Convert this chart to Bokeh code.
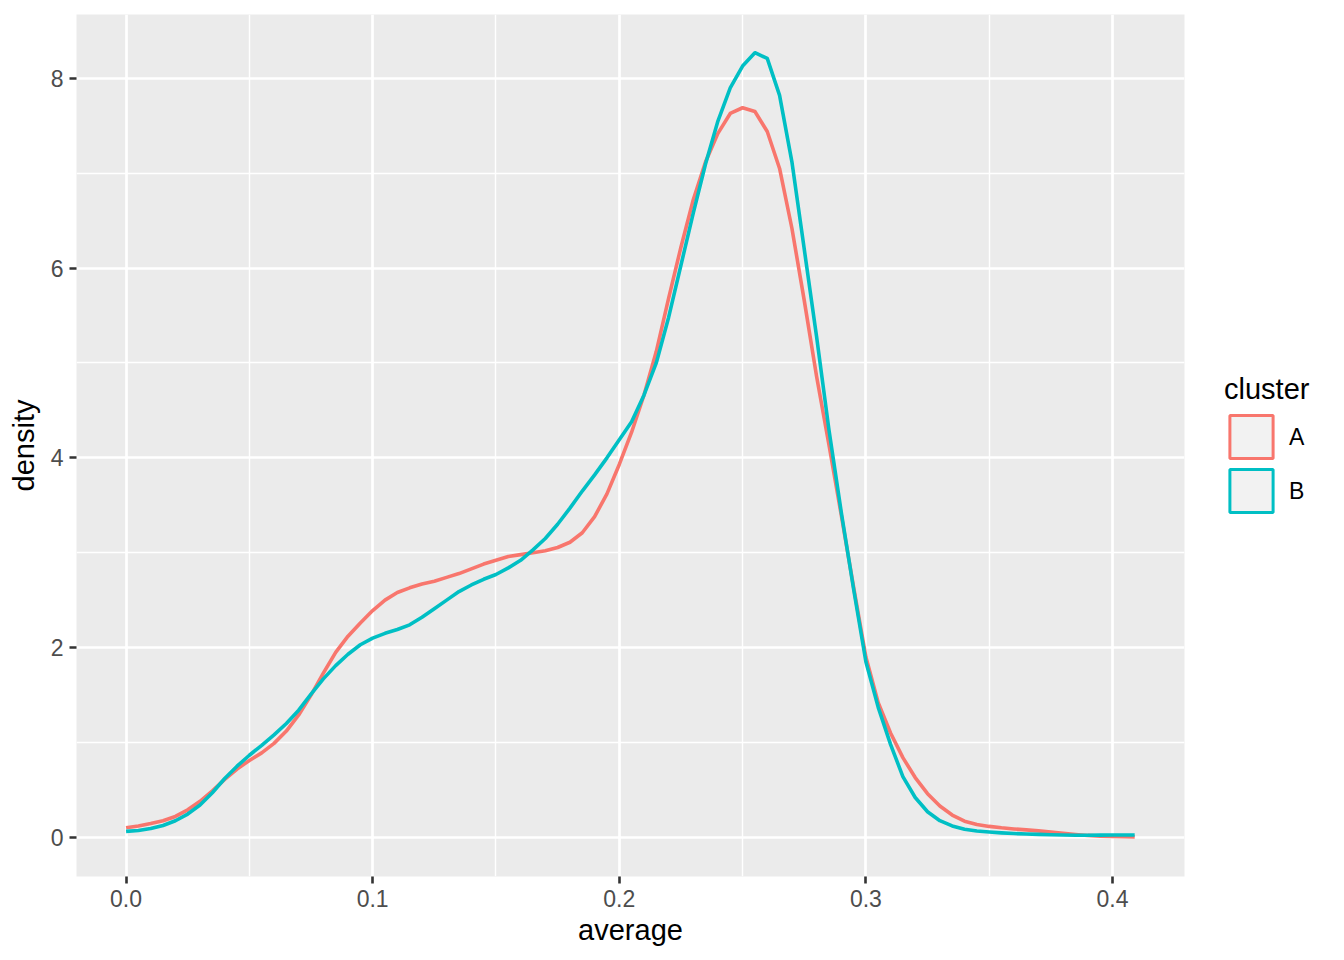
from bokeh.plotting import figure
from bokeh.models import Range1d, FixedTicker, Legend, LegendItem, ColumnDataSource
from bokeh.embed import file_html
from bokeh.resources import INLINE

# ---- data ----
average = [0.000, 0.005, 0.010, 0.015, 0.020, 0.025, 0.030, 0.035, 0.040, 0.045,
           0.050, 0.055, 0.060, 0.065, 0.070, 0.075, 0.080, 0.085, 0.090, 0.095,
           0.100, 0.105, 0.110, 0.115, 0.120, 0.125, 0.130, 0.135, 0.140, 0.145,
           0.150, 0.155, 0.160, 0.165, 0.170, 0.175, 0.180, 0.185, 0.190, 0.195,
           0.200, 0.205, 0.210, 0.215, 0.220, 0.225, 0.230, 0.235, 0.240, 0.245,
           0.250, 0.255, 0.260, 0.265, 0.270, 0.275, 0.280, 0.285, 0.290, 0.295,
           0.300, 0.305, 0.310, 0.315, 0.320, 0.325, 0.330, 0.335, 0.340, 0.345,
           0.350, 0.355, 0.360, 0.365, 0.370, 0.375, 0.380, 0.385, 0.390, 0.395,
           0.400, 0.405, 0.409]

density_A = [0.100, 0.120, 0.145, 0.175, 0.220, 0.290, 0.380, 0.490, 0.610, 0.720,
             0.810, 0.890, 0.990, 1.120, 1.290, 1.500, 1.730, 1.950, 2.120, 2.260,
             2.390, 2.500, 2.580, 2.630, 2.670, 2.700, 2.740, 2.780, 2.830, 2.880,
             2.920, 2.960, 2.980, 3.000, 3.020, 3.055, 3.110, 3.210, 3.380, 3.620,
             3.930, 4.270, 4.660, 5.120, 5.680, 6.220, 6.720, 7.120, 7.420, 7.630,
             7.690, 7.650, 7.440, 7.050, 6.420, 5.660, 4.860, 4.140, 3.400, 2.640,
             1.900, 1.420, 1.100, 0.840, 0.630, 0.460, 0.330, 0.235, 0.170, 0.135,
             0.115, 0.100, 0.088, 0.078, 0.068, 0.055, 0.042, 0.030, 0.020, 0.013,
             0.008, 0.006, 0.005]

density_B = [0.063, 0.072, 0.092, 0.125, 0.175, 0.245, 0.340, 0.470, 0.620, 0.750,
             0.865, 0.970, 1.080, 1.200, 1.340, 1.510, 1.670, 1.810, 1.930, 2.030,
             2.100, 2.150, 2.190, 2.240, 2.320, 2.410, 2.500, 2.590, 2.660, 2.720,
             2.770, 2.840, 2.920, 3.030, 3.150, 3.300, 3.470, 3.650, 3.820, 4.000,
             4.190, 4.380, 4.660, 5.000, 5.480, 6.030, 6.580, 7.100, 7.550, 7.900,
             8.130, 8.270, 8.210, 7.820, 7.120, 6.200, 5.280, 4.300, 3.430, 2.620,
             1.850, 1.370, 0.980, 0.640, 0.420, 0.270, 0.175, 0.120, 0.085, 0.066,
             0.056, 0.047, 0.040, 0.035, 0.031, 0.027, 0.024, 0.022, 0.022, 0.023,
             0.024, 0.025, 0.025]

clusters = ["A", "B"]
colors = ["#F8766D", "#00BFC4"]

x_ticks = [0.0, 0.1, 0.2, 0.3, 0.4]
x_tick_labels = ["0.0", "0.1", "0.2", "0.3", "0.4"]
x_minor = [0.05, 0.15, 0.25, 0.35]
y_ticks = [0, 2, 4, 6, 8]
y_tick_labels = ["0", "2", "4", "6", "8"]
y_minor = [1, 3, 5, 7]

FONT = "Liberation Sans"

p = figure(frame_width=1108, frame_height=862, output_backend="svg", toolbar_location=None,
           x_range=Range1d(-0.0201, 0.4292), y_range=Range1d(-0.413, 8.673),
           min_border_left=76, min_border_top=14, min_border_right=150,
           min_border_bottom=80)

p.background_fill_color = "#EBEBEB"
p.border_fill_color = "white"
p.outline_line_color = None

# grids
p.xaxis.ticker = FixedTicker(ticks=x_ticks, minor_ticks=x_minor)
p.yaxis.ticker = FixedTicker(ticks=y_ticks, minor_ticks=y_minor)
for g in (p.xgrid[0], p.ygrid[0]):
    g.grid_line_color = "white"
    g.grid_line_width = 2.7
    g.minor_grid_line_color = "white"
    g.minor_grid_line_width = 1.4

# axes
p.xaxis.major_label_overrides = {t: l for t, l in zip(x_ticks, x_tick_labels)}
p.yaxis.major_label_overrides = {t: l for t, l in zip(y_ticks, y_tick_labels)}
for ax in (p.xaxis[0], p.yaxis[0]):
    ax.axis_line_color = None
    ax.major_tick_line_color = "#333333"
    ax.major_tick_line_width = 2.6
    ax.major_tick_out = 7
    ax.major_tick_in = 0
    ax.minor_tick_line_color = None
    ax.major_label_text_font = FONT
    ax.major_label_text_font_size = "23px"
    ax.major_label_text_color = "#4D4D4D"
    ax.axis_label_text_font = FONT
    ax.axis_label_text_font_size = "29px"
    ax.axis_label_text_font_style = "normal"
    ax.axis_label_text_color = "black"
p.xaxis.axis_label = "average"
p.yaxis.axis_label = "density"
p.xaxis.major_label_standoff = 6
p.yaxis.major_label_standoff = 6
p.xaxis.axis_label_standoff = 4
p.yaxis.axis_label_standoff = 8

src = ColumnDataSource(dict(x=average, A=density_A, B=density_B))
for c, col in zip(clusters, colors):
    p.line("x", c, source=src, line_color=col, line_width=3.6, line_join="round")

# legend key renderers (outside visible range, only used for legend glyphs)
keys = []
for c, col in zip(clusters, colors):
    k = p.quad(left=[-1], right=[-0.9], bottom=[-10], top=[-9], fill_color="#F2F2F2",
               line_color=col, line_width=3)
    keys.append(k)

legend = Legend(items=[LegendItem(label=c, renderers=[k]) for c, k in zip(clusters, keys)],
                location="left", title="cluster")
legend.title_text_font = FONT
legend.title_text_font_size = "29px"
legend.title_text_font_style = "normal"
legend.title_text_color = "black"
legend.title_standoff = 4
legend.label_text_font = FONT
legend.label_text_font_size = "23px"
legend.label_text_color = "black"
legend.glyph_width = 54
legend.glyph_height = 54
legend.label_height = 54
legend.spacing = 0
legend.label_standoff = 11
legend.padding = 10
legend.margin = 40
legend.border_line_color = None
legend.background_fill_alpha = 0
p.add_layout(legend, "right")

open("out.html", "w").write(file_html(p, INLINE))
